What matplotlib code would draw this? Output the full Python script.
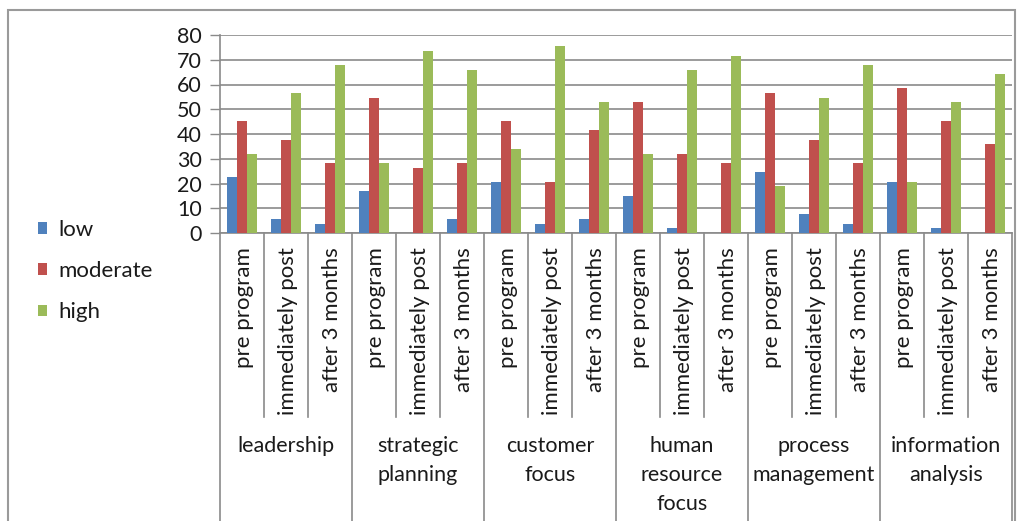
import numpy as np
import matplotlib.pyplot as plt
from matplotlib.patches import Rectangle
from matplotlib.transforms import blended_transform_factory

plt.rcParams['font.family'] = ['Lato', 'DejaVu Sans']

groups = ["leadership", "strategic\nplanning", "customer\nfocus",
          "human\nresource\nfocus", "process\nmanagement", "information\nanalysis"]
phases = ["pre program", "immediately post", "after 3 months"]
series = ["low", "moderate", "high"]
colors = ["#4F81BD", "#C0504D", "#9BBB59"]

# percentages, one value per (group, phase)
low = [22.6, 5.7, 3.8, 17.0, 0, 5.7, 20.8, 3.8, 5.7, 15.1, 1.9, 0, 24.5, 7.5, 3.8, 20.8, 1.9, 0]
moderate = [45.3, 37.7, 28.3, 54.7, 26.4, 28.3, 45.3, 20.8, 41.5, 52.8, 32.1, 28.3,
            56.6, 37.7, 28.3, 58.5, 45.3, 35.8]
high = [32.1, 56.6, 67.9, 28.3, 73.6, 66.0, 34.0, 75.5, 52.8, 32.1, 66.0, 71.7,
        18.9, 54.7, 67.9, 20.8, 52.8, 64.2]

W, H = 1022, 521
fig = plt.figure(figsize=(W / 100, H / 100), dpi=100)
ax = fig.add_axes([220 / W, 1 - 233 / H, 792 / W, 198 / H])

n = len(groups) * len(phases)
x = np.arange(n)
bw = 0.22
for k, (vals, lab, c) in enumerate(zip([low, moderate, high], series, colors)):
    ax.bar(x + (k - 1) * bw, vals, bw, color=c, label=lab, zorder=3)

ax.set_xlim(-0.5, n - 0.5)
ax.set_ylim(0, 80)
ax.set_yticks(range(0, 81, 10))
ax.yaxis.grid(True, color="#8a8a8a", linewidth=1.2, zorder=0)
ax.tick_params(axis='y', length=7, width=1, color="#8a8a8a", labelsize=15.5, pad=6,
               labelcolor="#1a1a1a")
ax.tick_params(axis='x', length=0)
ax.set_xticks([])
for s in ['top', 'right']:
    ax.spines[s].set_visible(False)
for s in ['left', 'bottom']:
    ax.spines[s].set_color("#8a8a8a")
    ax.spines[s].set_linewidth(1.2)

tr = blended_transform_factory(ax.transData, ax.transAxes)
axh = 198.0

# category table under the axis
sub_bottom = -(417 - 233) / axh
grp_bottom = -(530 - 233) / axh
for i in range(n + 1):
    if i % len(phases) == 0:
        ax.plot([i - 0.5, i - 0.5], [0, grp_bottom], transform=tr, color="#8a8a8a",
                lw=1.2, clip_on=False)
    else:
        ax.plot([i - 0.5, i - 0.5], [0, sub_bottom], transform=tr, color="#8a8a8a",
                lw=1.2, clip_on=False)

for i in range(n):
    ax.text(i + 0.05, -(247 - 233) / axh, phases[i % len(phases)], transform=tr,
            rotation=90, ha='center', va='top', fontsize=16, color="#1a1a1a")

for g, name in enumerate(groups):
    ax.text(g * len(phases) + 1, -(436 - 233) / axh, name, transform=tr,
            ha='center', va='top', fontsize=15.5, linespacing=1.55, color="#1a1a1a")

fig.legend(loc='upper left', bbox_to_anchor=(18 / W, 1 - 200 / H), frameon=False,
           fontsize=16, handlelength=0.42, handleheight=0.42, handletextpad=0.5,
           labelspacing=0.95, labelcolor="#1a1a1a")

fig.patches.append(Rectangle((8 / W, -0.1), (1015 - 8) / W, 1.1 - 10 / H,
                             transform=fig.transFigure, fill=False,
                             edgecolor="#9a9a9a", linewidth=1.5))

fig.savefig("out.png", dpi=100)
